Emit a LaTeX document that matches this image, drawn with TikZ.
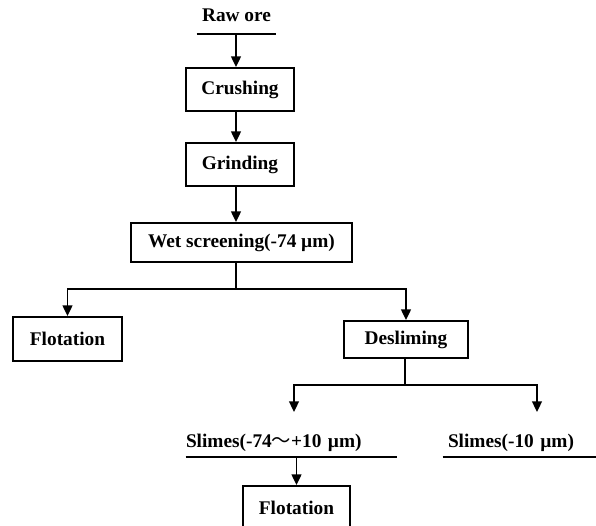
\documentclass[tikz,border=0pt]{standalone}
\usepackage{fontspec}
\setmainfont{Liberation Serif}
\newfontfamily\cjk{Noto Sans CJK SC}
\usetikzlibrary{arrows.meta}

\begin{document}
\begin{tikzpicture}[
    x=0.02cm, y=-0.02cm,
    every node/.style={font=\fontsize{11}{13}\selectfont\bfseries},
    stage/.style={rectangle, draw, line width=1.1pt, inner sep=0pt, minimum height=43*0.02cm},
    feed/.style={inner xsep=0pt, inner ysep=0pt, align=left},
    line/.style={line width=1.1pt},
    arrow/.style={line width=1.1pt, -{Triangle[length=6pt, width=5.5pt]}},
]
\useasboundingbox (0,0) rectangle (596,526);

% Feed
\node[feed, minimum width=79*0.02cm, minimum height=38*0.02cm, align=center] (rawore) at (236.5,15) {Raw ore};
\draw[line] (rawore.south west) -- (rawore.south east);

% Main line
\coordinate (axis) at (236,0);
\node[stage, minimum width=108*0.02cm] (crushing) at (240,89.5) {Crushing};
\node[stage, minimum width=108*0.02cm] (grinding) at (240,164.5) {Grinding};
\node[stage, minimum width=221*0.02cm, minimum height=39*0.02cm] (wetscreen) at (241.5,242.5) {Wet screening(-74 µm)};

\draw[arrow] (rawore.south -| axis) -- (crushing.north -| axis);
\draw[arrow] (crushing.south -| axis) -- (grinding.north -| axis);
\draw[arrow] (grinding.south -| axis) -- (wetscreen.north -| axis);

% Screening products
\node[stage, minimum width=109*0.02cm, minimum height=44*0.02cm] (flotationA) at (67.5,339) {Flotation};
\node[stage, minimum width=124*0.02cm, minimum height=37*0.02cm] (desliming) at (406,339.5) {Desliming};

\coordinate (split) at (236,289);
\draw[line] (wetscreen.south -| split) -- (split);
\draw[arrow] (split) -| (flotationA.north);
\draw[arrow] (split) -| (desliming.north);

% Desliming products
\node[feed, text width=211*0.02cm, minimum height=28*0.02cm] (slimesA) at (291.5,443) {Slimes(-74{\cjk\mdseries ～}+10 µm)};
\draw[line] (slimesA.south west) -- (slimesA.south east);
\node[feed, text width=153*0.02cm, minimum height=28*0.02cm] (slimesB) at (519.5,443) {\hspace*{0.1cm}Slimes(-10 µm)};
\draw[line] (slimesB.south west) -- (slimesB.south east);

\coordinate (join) at (405,385);
\coordinate (inA) at (294,412);
\coordinate (inB) at (537,412);
\draw[line] (desliming.south -| join) -- (join);
\draw[arrow] (join) -| (inA);
\draw[arrow] (join) -| (inB);

% Final flotation
\node[stage, minimum width=107*0.02cm, minimum height=44*0.02cm] (flotationB) at (296.5,508) {Flotation};
\draw[arrow] (slimesA.south -| flotationB) -- (flotationB.north);

\end{tikzpicture}
\end{document}
